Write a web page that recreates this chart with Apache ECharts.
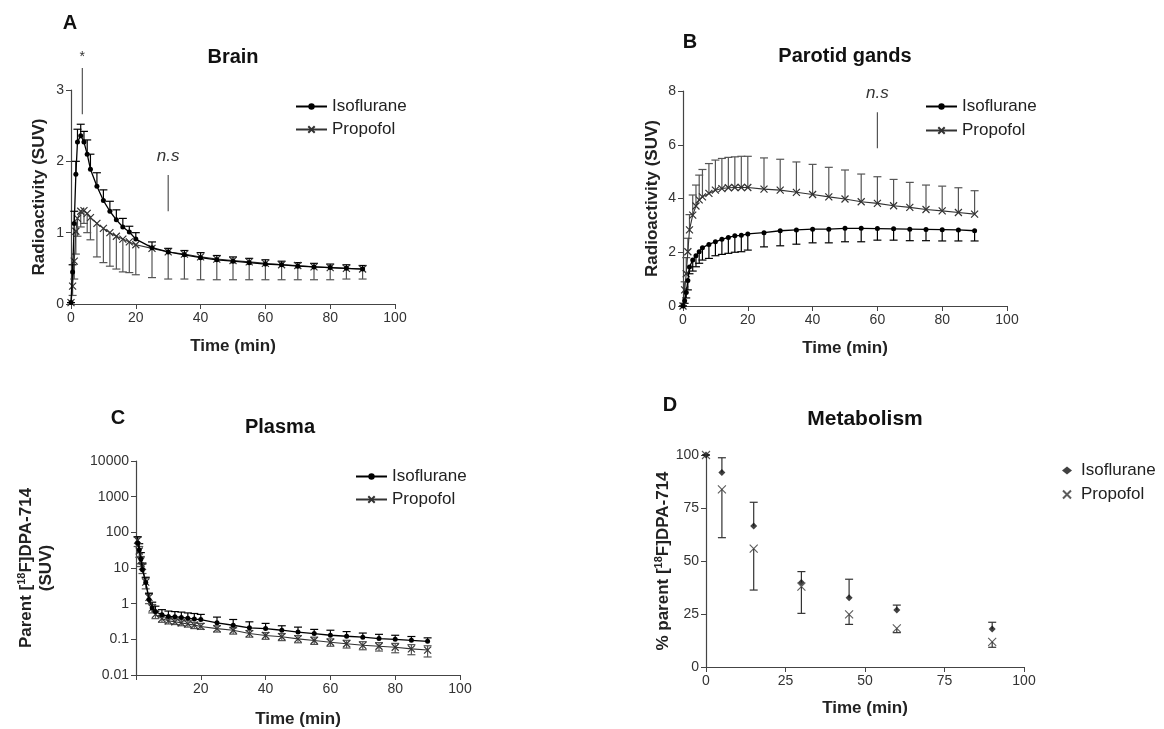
<!DOCTYPE html>
<html>
<head>
<meta charset="utf-8">
<script src="https://cdn.jsdelivr.net/npm/echarts@6/dist/echarts.min.js"></script>
<style>
html,body{margin:0;padding:0;background:#fff;}
#chart{width:1164px;height:729px;}
</style>
</head>
<body>
<div id="chart"></div>
<script>
// ---------- DATA ----------
const timesAB = [0, 0.5, 1, 1.5, 2, 3, 4, 5, 6, 8, 10, 12, 14, 16, 18, 20, 25, 30, 35, 40, 45, 50, 55, 60, 65, 70, 75, 80, 85, 90];
const timesC  = [0.5, 1, 1.5, 2, 3, 4, 5, 6, 8, 10, 12, 14, 16, 18, 20, 25, 30, 35, 40, 45, 50, 55, 60, 65, 70, 75, 80, 85, 90];
const timesD  = [0, 5, 15, 30, 45, 60, 90];

// A: Brain
const brainIso      = [0.02, 0.45, 1.13, 1.82, 2.27, 2.36, 2.27, 2.10, 1.89, 1.65, 1.45, 1.30, 1.18, 1.08, 1.01, 0.91, 0.79, 0.73, 0.69, 0.65, 0.62, 0.60, 0.58, 0.56, 0.55, 0.53, 0.52, 0.51, 0.50, 0.49];
const brainIsoUp    = [0.02, 0.55, 1.30, 2.00, 2.45, 2.52, 2.42, 2.30, 2.10, 1.84, 1.60, 1.44, 1.32, 1.20, 1.09, 1.00, 0.87, 0.78, 0.75, 0.72, 0.68, 0.66, 0.64, 0.62, 0.60, 0.58, 0.57, 0.56, 0.55, 0.54];
const brainProp     = [0.02, 0.25, 0.60, 1.02, 1.20, 1.30, 1.31, 1.27, 1.21, 1.13, 1.06, 1.00, 0.95, 0.91, 0.87, 0.83, 0.78, 0.73, 0.70, 0.66, 0.63, 0.61, 0.59, 0.57, 0.55, 0.54, 0.52, 0.51, 0.50, 0.49];
const brainPropLo   = [0.02, 0.12, 0.35, 0.70, 0.95, 1.08, 1.13, 1.00, 0.90, 0.66, 0.58, 0.53, 0.49, 0.45, 0.44, 0.41, 0.37, 0.35, 0.35, 0.34, 0.34, 0.34, 0.34, 0.34, 0.34, 0.34, 0.34, 0.34, 0.35, 0.35];

// B: Parotid glands
const parIso        = [0, 0.20, 0.50, 0.95, 1.45, 1.71, 1.87, 2.02, 2.17, 2.29, 2.39, 2.48, 2.55, 2.61, 2.63, 2.68, 2.73, 2.80, 2.83, 2.86, 2.86, 2.89, 2.89, 2.88, 2.87, 2.86, 2.85, 2.84, 2.83, 2.80];
const parIsoLo      = [0, 0.10, 0.30, 0.60, 1.20, 1.30, 1.46, 1.59, 1.71, 1.77, 1.87, 1.92, 1.96, 2.00, 2.02, 2.08, 2.20, 2.24, 2.30, 2.35, 2.35, 2.39, 2.39, 2.45, 2.45, 2.43, 2.43, 2.42, 2.42, 2.42];
const parProp       = [0, 0.60, 1.20, 2.02, 2.83, 3.38, 3.72, 3.95, 4.06, 4.19, 4.31, 4.37, 4.40, 4.41, 4.41, 4.41, 4.35, 4.31, 4.23, 4.15, 4.06, 3.98, 3.88, 3.82, 3.73, 3.67, 3.59, 3.54, 3.48, 3.42];
const parPropUp     = [0, 0.90, 1.80, 2.52, 3.40, 4.13, 4.50, 4.87, 5.08, 5.30, 5.43, 5.49, 5.53, 5.55, 5.57, 5.57, 5.51, 5.46, 5.36, 5.27, 5.16, 5.06, 4.91, 4.81, 4.71, 4.60, 4.50, 4.46, 4.40, 4.29];

// C: Plasma
const plIso         = [50, 32, 18, 9, 3.9, 1.3, 0.76, 0.60, 0.49, 0.44, 0.43, 0.41, 0.39, 0.37, 0.357, 0.29, 0.248, 0.21, 0.20, 0.18, 0.16, 0.145, 0.13, 0.122, 0.115, 0.105, 0.10, 0.094, 0.088];
const plIsoUp       = [75, 48, 27, 13, 5.5, 1.9, 1.1, 0.85, 0.68, 0.62, 0.60, 0.58, 0.55, 0.53, 0.50, 0.42, 0.36, 0.31, 0.28, 0.24, 0.22, 0.19, 0.18, 0.165, 0.15, 0.138, 0.13, 0.12, 0.11];
const plProp        = [60, 30, 16, 11, 4, 1.5, 0.75, 0.50, 0.38, 0.33, 0.31, 0.29, 0.27, 0.25, 0.23, 0.20, 0.18, 0.145, 0.128, 0.118, 0.103, 0.093, 0.083, 0.075, 0.068, 0.064, 0.060, 0.054, 0.050];
const plPropLo      = [40, 20, 11, 7, 2.6, 1.0, 0.55, 0.38, 0.30, 0.27, 0.26, 0.24, 0.22, 0.20, 0.19, 0.16, 0.14, 0.115, 0.10, 0.092, 0.080, 0.072, 0.064, 0.057, 0.051, 0.047, 0.042, 0.037, 0.032];
const plPropUp      = [75, 40, 21, 14, 5.2, 2.0, 0.95, 0.62, 0.47, 0.40, 0.37, 0.35, 0.33, 0.30, 0.28, 0.24, 0.21, 0.175, 0.155, 0.145, 0.127, 0.115, 0.103, 0.094, 0.086, 0.081, 0.077, 0.071, 0.066];

// D: Metabolism
const metIso        = [100, 91.8, 66.5, 39.8, 32.7, 26.9, 17.9];
const metIsoUp      = [100, 98.7, 77.7, 45.0, 41.4, 29.2, 21.1];
const metProp       = [100, 83.8, 55.8, 37.9, 24.8, 18.2, 11.9];
const metPropLo     = [100, 61.0, 36.3, 25.3, 20.1, 16.2, 9.3];

// significance annotations [x, yLow, yHigh, text]
const annotA = [[3.5, 2.66, 3.31, '*'], [30, 1.30, 1.81, 'n.s']];
const annotB = [[60, 5.87, 7.21, 'n.s']];

const seriesNames = ['Isoflurane', 'Propofol'];

// ---------- HELPERS ----------
const FONT = "'Liberation Sans', Arial, Helvetica, sans-serif";
const AX = '#444';
const ISO_C = '#000';
const PROP_C = '#333';
const ERR_P = '#555';
const X_SYM = 'path://M0,0L10,10M10,0L0,10';

function zip(xs, ys) { return xs.map((x, i) => [x, ys[i]]); }
function zip3(xs, ys, bs) { return xs.map((x, i) => [x, ys[i], bs[i]]); }

function errRender(color, capW) {
  return function (params, api) {
    const x = api.value(0), y = api.value(1), b = api.value(2);
    const p1 = api.coord([x, y]), p2 = api.coord([x, b]);
    const st = { stroke: color, lineWidth: 1.2 };
    return { type: 'group', children: [
      { type: 'line', shape: { x1: p1[0], y1: p1[1], x2: p2[0], y2: p2[1] }, style: st },
      { type: 'line', shape: { x1: p2[0] - capW / 2, y1: p2[1], x2: p2[0] + capW / 2, y2: p2[1] }, style: st }
    ]};
  };
}
function annotRender(params, api) {
  const x = api.value(0), lo = api.value(1), hi = api.value(2);
  const txt = params.context.texts[params.dataIndex];
  const p1 = api.coord([x, lo]), p2 = api.coord([x, hi]);
  const isStar = txt === '*';
  return { type: 'group', children: [
    { type: 'line', shape: { x1: p1[0], y1: p1[1], x2: p2[0], y2: p2[1] }, style: { stroke: '#555', lineWidth: 1.2 } },
    { type: 'text', x: p2[0], y: p2[1] - (isStar ? 4 : 10), style: {
        text: txt, textAlign: 'center', textVerticalAlign: 'bottom',
        font: (isStar ? 'normal 14px ' : 'italic 17px ') + FONT, fill: '#333' } }
  ]};
}
function annotSeries(idx, arr) {
  const texts = arr.map(a => a[3]);
  return {
    type: 'custom', name: 'annot' + idx, xAxisIndex: idx, yAxisIndex: idx, clip: false, silent: true,
    renderItem: function (params, api) { params.context.texts = texts; return annotRender(params, api); },
    encode: { x: 0, y: [1, 2] },
    data: arr.map(a => [a[0], a[1], a[2]]), z: 5
  };
}
function lineSeries(idx, suffix, name, data, isIso) {
  return {
    type: 'line', name: name + '_' + suffix, xAxisIndex: idx, yAxisIndex: idx, data: data,
    symbol: isIso ? 'circle' : X_SYM, symbolSize: isIso ? 5 : 7, showAllSymbol: true,
    lineStyle: { color: isIso ? ISO_C : PROP_C, width: isIso ? 1.3 : 1.1 },
    itemStyle: isIso ? { color: ISO_C } : { color: PROP_C, borderColor: PROP_C, borderWidth: 1.2 },
    z: isIso ? 4 : 3, clip: false
  };
}
function errSeries(idx, data, color) {
  return { type: 'custom', name: 'err' + idx + color, xAxisIndex: idx, yAxisIndex: idx, silent: true,
    renderItem: errRender(color, 8), encode: { x: 0, y: [1, 2] }, data: data, z: 2, clip: false };
}
const tickLbl = { color: '#333', fontSize: 14, fontFamily: FONT, margin: 7 };
const nameStyle = { fontSize: 17, fontWeight: 'bold', fontFamily: FONT, color: '#222' };
function xAxis(idx, interval, hideZero, gap) {
  return { type: 'value', gridIndex: idx, min: 0, max: 100, interval: interval,
    name: 'Time (min)', nameLocation: 'middle', nameGap: gap, nameTextStyle: nameStyle,
    axisLine: { show: true, onZero: false, lineStyle: { color: AX, width: 1.2 } },
    axisTick: { show: true, length: 5, lineStyle: { color: AX } },
    axisLabel: Object.assign({}, tickLbl, hideZero ? { formatter: v => (v === 0 ? '' : String(v)) } : {}),
    splitLine: { show: false } };
}
function yAxis(idx, opts) {
  return Object.assign({ type: 'value', gridIndex: idx, nameLocation: 'middle', nameRotate: 90,
    nameTextStyle: nameStyle,
    axisLine: { show: true, onZero: false, lineStyle: { color: AX, width: 1.2 } },
    axisTick: { show: true, length: 5, lineStyle: { color: AX } },
    axisLabel: tickLbl, splitLine: { show: false } }, opts);
}
function legend(suffix, left, top, gap, iw, pad) {
  return { orient: 'vertical', left: left, top: top, itemGap: gap, itemWidth: iw, itemHeight: 8,
    data: seriesNames.map(n => n + '_' + suffix), formatter: n => n.split('_')[0],
    textStyle: { fontSize: 17, fontFamily: FONT, color: '#222', padding: [0, 0, 0, pad] }, selectedMode: false };
}

const richName = {
  a: { fontSize: 17, fontWeight: 'bold', fontFamily: FONT, color: '#222', lineHeight: 20 },
  s: { fontSize: 11, fontWeight: 'bold', fontFamily: FONT, color: '#222', lineHeight: 20, verticalAlign: 'top' }
};

const option = {
  animation: false,
  backgroundColor: '#fff',
  grid: [
    { left: 71, top: 90, width: 324, height: 214 },
    { left: 683, top: 91, width: 324, height: 215 },
    { left: 136, top: 461, width: 324, height: 215 },
    { left: 706, top: 455, width: 318, height: 212 }
  ],
  xAxis: [xAxis(0, 20, false, 34), xAxis(1, 20, false, 34), xAxis(2, 20, true, 36), xAxis(3, 25, false, 33)],
  yAxis: [
    yAxis(0, { min: 0, max: 3, interval: 1, name: 'Radioactivity (SUV)', nameGap: 23 }),
    yAxis(1, { min: 0, max: 8, interval: 2, name: 'Radioactivity (SUV)', nameGap: 22 }),
    yAxis(2, { type: 'log', logBase: 10, min: 0.01, max: 10000,
      name: '{a|Parent [}{s|18}{a|F]DPA-714}\n{a|(SUV)}', nameGap: 80,
      nameTextStyle: { rich: richName, align: 'center' },
      axisLabel: Object.assign({}, tickLbl, { formatter: v => String(parseFloat(Number(v).toPrecision(3))) }) }),
    yAxis(3, { min: 0, max: 100, interval: 25, name: '{a|% parent [}{s|18}{a|F]DPA-714}', nameGap: 32,
      nameTextStyle: { rich: richName } })
  ],
  legend: [
    legend('A', 290, 93, 6, 31, 0),
    legend('B', 920, 93, 7, 31, 0),
    legend('C', 350, 463, 6, 31, 0),
    legend('D', 1057, 457, 7, 10, 4)
  ],
  graphic: [
    { type: 'text', x: 70, y: 23, style: { text: 'A', font: 'bold 20px ' + FONT, fill: '#111', textAlign: 'center', textVerticalAlign: 'middle' } },
    { type: 'text', x: 690, y: 42, style: { text: 'B', font: 'bold 20px ' + FONT, fill: '#111', textAlign: 'center', textVerticalAlign: 'middle' } },
    { type: 'text', x: 118, y: 418, style: { text: 'C', font: 'bold 20px ' + FONT, fill: '#111', textAlign: 'center', textVerticalAlign: 'middle' } },
    { type: 'text', x: 670, y: 405, style: { text: 'D', font: 'bold 20px ' + FONT, fill: '#111', textAlign: 'center', textVerticalAlign: 'middle' } },
    { type: 'text', x: 233, y: 57, style: { text: 'Brain', font: 'bold 20px ' + FONT, fill: '#111', textAlign: 'center', textVerticalAlign: 'middle' } },
    { type: 'text', x: 845, y: 56, style: { text: 'Parotid gands', font: 'bold 20px ' + FONT, fill: '#111', textAlign: 'center', textVerticalAlign: 'middle' } },
    { type: 'text', x: 280, y: 427, style: { text: 'Plasma', font: 'bold 20px ' + FONT, fill: '#111', textAlign: 'center', textVerticalAlign: 'middle' } },
    { type: 'text', x: 865, y: 419, style: { text: 'Metabolism', font: 'bold 21px ' + FONT, fill: '#111', textAlign: 'center', textVerticalAlign: 'middle' } }
  ],
  series: [
    // A
    errSeries(0, zip3(timesAB, brainProp, brainPropLo), ERR_P),
    errSeries(0, zip3(timesAB, brainIso, brainIsoUp), ISO_C),
    lineSeries(0, 'A', 'Isoflurane', zip(timesAB, brainIso), true),
    lineSeries(0, 'A', 'Propofol', zip(timesAB, brainProp), false),
    annotSeries(0, annotA),
    // B
    errSeries(1, zip3(timesAB, parProp, parPropUp), ERR_P),
    errSeries(1, zip3(timesAB, parIso, parIsoLo), ISO_C),
    lineSeries(1, 'B', 'Isoflurane', zip(timesAB, parIso), true),
    lineSeries(1, 'B', 'Propofol', zip(timesAB, parProp), false),
    annotSeries(1, annotB),
    // C
    errSeries(2, zip3(timesC, plProp, plPropLo), ERR_P),
    errSeries(2, zip3(timesC, plProp, plPropUp), ERR_P),
    errSeries(2, zip3(timesC, plIso, plIsoUp), ISO_C),
    lineSeries(2, 'C', 'Isoflurane', zip(timesC, plIso), true),
    lineSeries(2, 'C', 'Propofol', zip(timesC, plProp), false),
    // D
    errSeries(3, zip3(timesD, metIso, metIsoUp), '#333'),
    errSeries(3, zip3(timesD, metProp, metPropLo), '#333'),
    { type: 'scatter', name: 'Isoflurane_D', xAxisIndex: 3, yAxisIndex: 3, data: zip(timesD, metIso),
      symbol: 'diamond', symbolSize: 7, itemStyle: { color: '#111' }, z: 4, clip: false },
    { type: 'scatter', name: 'Propofol_D', xAxisIndex: 3, yAxisIndex: 3, data: zip(timesD, metProp),
      symbol: X_SYM, symbolSize: 8, itemStyle: { color: '#333', borderColor: '#333', borderWidth: 1.1 }, z: 4, clip: false }
  ]
};

const chart = echarts.init(document.getElementById('chart'), null, { renderer: 'canvas' });
chart.setOption(option);
</script>
</body>
</html>
